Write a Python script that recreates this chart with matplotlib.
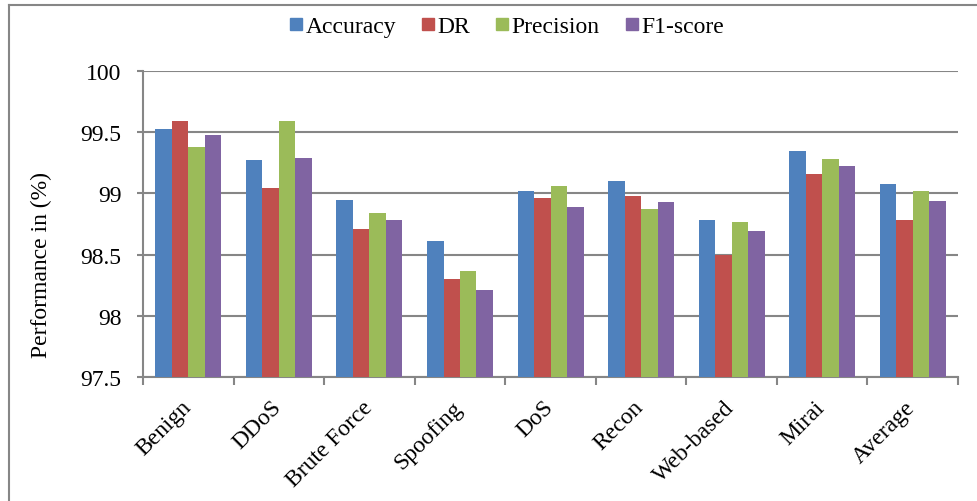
import numpy as np
import matplotlib.pyplot as plt
from matplotlib.lines import Line2D
from matplotlib.transforms import ScaledTranslation

plt.rcParams['font.family'] = ['Liberation Serif', 'DejaVu Serif']

# per-class detection results
categories = ['Benign', 'DDoS', 'Brute Force', 'Spoofing', 'DoS', 'Recon', 'Web-based', 'Mirai', 'Average']
accuracy = [99.53, 99.27, 98.95, 98.61, 99.02, 99.10, 98.78, 99.35, 99.08]
dr = [99.59, 99.04, 98.71, 98.30, 98.96, 98.98, 98.50, 99.16, 98.78]
precision = [99.38, 99.59, 98.84, 98.37, 99.06, 98.87, 98.77, 99.28, 99.02]
f1_score = [99.48, 99.29, 98.78, 98.21, 98.89, 98.93, 98.69, 99.22, 98.94]

series = [('Accuracy', accuracy, '#4F81BD'),
          ('DR', dr, '#C0504D'),
          ('Precision', precision, '#9BBB59'),
          ('F1-score', f1_score, '#8064A2')]

AXIS_GREY = '#868686'
FS = 17

fig = plt.figure(figsize=(9.77, 5.02), dpi=100)
ax = fig.add_axes([0.1464, 0.247, 0.8342, 0.6096])

x = np.arange(len(categories))
w = 0.182
for i, (name, vals, col) in enumerate(series):
    ax.bar(x + (i - 1.5) * w, np.array(vals) - 97.5, width=w, bottom=97.5,
           color=col, label=name, zorder=3, edgecolor='none')

ax.set_ylim(97.5, 100)
ax.set_xlim(-0.5, len(categories) - 0.5)
ax.set_yticks([97.5, 98, 98.5, 99, 99.5, 100])
ax.set_yticklabels(['97.5', '98', '98.5', '99', '99.5', '100'], fontsize=FS)
ax.yaxis.grid(True, color=AXIS_GREY, linewidth=1.5, zorder=0)

# ticks sit on category boundaries, labels on category centres
ax.set_xticks(np.arange(len(categories) + 1) - 0.5)
ax.set_xticklabels([])
ax.set_xticks(x, minor=True)
ax.set_xticklabels(categories, minor=True, rotation=45, ha='right', va='top',
                   rotation_mode='anchor', fontsize=FS)
ax.tick_params(axis='x', which='minor', length=0, pad=14)
ax.tick_params(axis='x', which='major', length=6, width=1.5, color=AXIS_GREY, direction='out')
ax.tick_params(axis='y', length=4.5, width=1.5, color=AXIS_GREY, direction='out', pad=11)
for lbl in ax.get_xticklabels(minor=True):
    lbl.set_transform(lbl.get_transform() + ScaledTranslation(-8 / 100, 0, fig.dpi_scale_trans))

for s in ['top', 'right']:
    ax.spines[s].set_visible(False)
for s in ['left', 'bottom']:
    ax.spines[s].set_color(AXIS_GREY)
    ax.spines[s].set_linewidth(1.5)

ax.set_ylabel('Performance in (%)', fontsize=FS)
ax.yaxis.set_label_coords(-0.112, 0.37)

handles = [Line2D([], [], marker='s', linestyle='none', markersize=8,
                  markerfacecolor=col, markeredgecolor=col) for _, _, col in series]
fig.legend(handles, [s[0] for s in series], loc='center', bbox_to_anchor=(0.519, 0.946),
           ncol=4, frameon=False, fontsize=FS, handletextpad=0.15, columnspacing=1.1,
           handlelength=0.5)

# outer chart frame (left and top edges)
fig.add_artist(Line2D([8.5 / 977, 8.5 / 977], [0, 1 - 5.5 / 502], transform=fig.transFigure,
                      color=AXIS_GREY, linewidth=1.5))
fig.add_artist(Line2D([8.5 / 977, 1], [1 - 5.5 / 502, 1 - 5.5 / 502], transform=fig.transFigure,
                      color=AXIS_GREY, linewidth=1.5))

fig.savefig('out.png', dpi=100)
